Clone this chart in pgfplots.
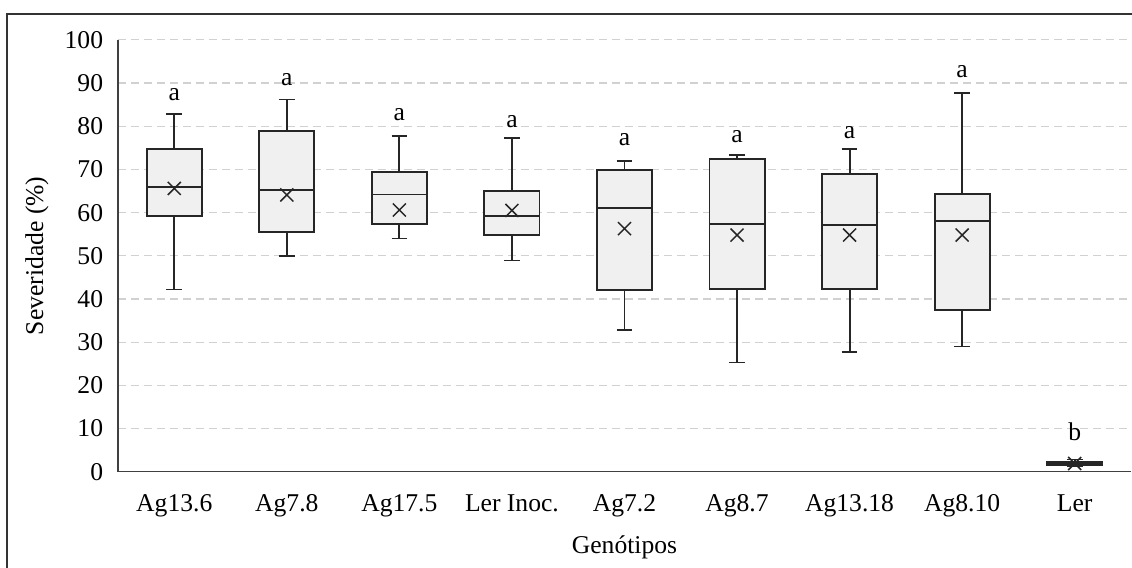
\documentclass[border=0pt]{standalone}
\usepackage{fontspec}
\setmainfont{Liberation Serif}
\usepackage{pgfplots}
\pgfplotsset{compat=1.18}
\usepgfplotslibrary{statistics}
\begin{document}
\fontsize{12.8}{15}\selectfont
\begin{tikzpicture}
\useasboundingbox (-59pt,-48.15pt) rectangle (507pt,235.85pt);
\draw[line width=0.9pt, black!80] (-55.5pt,-80pt) rectangle (540pt,228.85pt);
\begin{axis}[
  scale only axis,
  width=506.5pt, height=215.9pt,
  xmin=-0.5, xmax=8.5, ymin=0, ymax=100,
  axis x line*=bottom, axis y line*=left,
  axis line style={black!75, line width=0.7pt},
  xtick={0,1,2,3,4,5,6,7,8},
  xticklabels={Ag13.6,Ag7.8,Ag17.5,Ler Inoc.,Ag7.2,Ag8.7,Ag13.18,Ag8.10,Ler},
  ytick={0,10,...,100},
  major tick length=0pt,
  ymajorgrids,
  major grid style={dash pattern=on 4pt off 2.5pt, black!18, line width=0.6pt},
  /pgf/number format/assume math mode=true,
  tick label style={font=\fontsize{12.8}{15}\selectfont},
  xticklabel style={yshift=-7pt},
  yticklabel style={xshift=-3pt},
  every axis x label/.style={at={(axis description cs:0.5,0)},yshift=-38pt,anchor=center},
  every axis y label/.style={at={(axis description cs:-0.080,0.5)},rotate=90,anchor=center},
  xlabel={Genótipos},
  ylabel={Severidade (\%)},
  label style={font=\fontsize{12.8}{15}\selectfont},
  boxplot/draw direction=y,
  boxplot/box extend=0.49,
  boxplot/whisker extend=0.14,
  clip=false,
]
\pgfplotsset{mybox/.style={draw=black!85, fill=black!6, line width=0.95pt, solid}}
\addplot[mybox, boxplot prepared={draw position=0, lower whisker=42.2, lower quartile=59.2, median=65.9, upper quartile=74.75, upper whisker=82.8}] coordinates {};
\addplot[mybox, boxplot prepared={draw position=1, lower whisker=50.0, lower quartile=55.6, median=65.3, upper quartile=78.8, upper whisker=86.2}] coordinates {};
\addplot[mybox, boxplot prepared={draw position=2, lower whisker=54.0, lower quartile=57.4, median=64.2, upper quartile=69.4, upper whisker=77.8}] coordinates {};
\addplot[mybox, boxplot prepared={draw position=3, lower whisker=48.9, lower quartile=54.9, median=59.2, upper quartile=65.0, upper whisker=77.3}] coordinates {};
\addplot[mybox, boxplot prepared={draw position=4, lower whisker=32.8, lower quartile=42.1, median=61.0, upper quartile=69.9, upper whisker=72.0}] coordinates {};
\addplot[mybox, boxplot prepared={draw position=5, lower whisker=25.3, lower quartile=42.3, median=57.3, upper quartile=72.4, upper whisker=73.3}] coordinates {};
\addplot[mybox, boxplot prepared={draw position=6, lower whisker=27.7, lower quartile=42.3, median=57.1, upper quartile=69.0, upper whisker=74.8}] coordinates {};
\addplot[mybox, boxplot prepared={draw position=7, lower whisker=29.0, lower quartile=37.5, median=58.1, upper quartile=64.4, upper whisker=87.6}] coordinates {};
\addplot[mybox, line width=0.8pt, boxplot prepared={draw position=8, lower whisker=1.2, lower quartile=1.5, median=2.0, upper quartile=2.4, upper whisker=2.8}] coordinates {};
\addplot[only marks, mark=x, mark size=4.6pt, mark options={line width=0.75pt, black!85}] coordinates {
 (0,65.6) (1,64.1) (2,60.6) (3,60.5) (4,56.3) (5,54.8) (6,54.8) (7,54.8) (8,1.9)};
\node at (axis cs:0,87.3) {a};
\node at (axis cs:1,90.7) {a};
\node at (axis cs:2,82.8) {a};
\node at (axis cs:3,81.0) {a};
\node at (axis cs:4,76.8) {a};
\node at (axis cs:5,77.6) {a};
\node at (axis cs:6,78.6) {a};
\node at (axis cs:7,92.7) {a};
\node at (axis cs:8,9.3) {b};
\end{axis}
\end{tikzpicture}
\end{document}
